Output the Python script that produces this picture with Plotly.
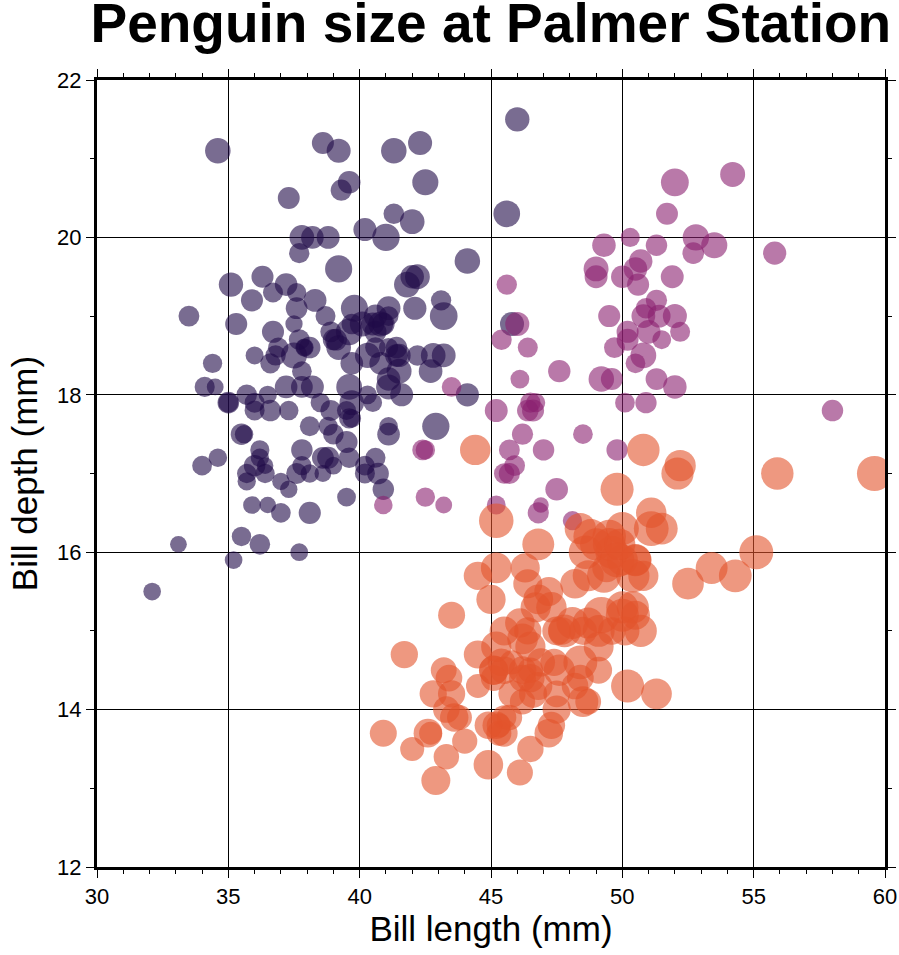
import plotly.graph_objects as go

# Adelie: bill length, bill depth, body mass
adelie_len = [39.1,39.5,40.3,36.7,39.3,38.9,39.2,34.1,42.0,37.8,37.8,41.1,38.6,34.6,36.6,38.7,42.5,34.4,46.0,37.8,
37.7,35.9,38.2,38.8,35.3,40.6,40.5,37.9,40.5,39.5,37.2,39.5,40.9,36.4,39.2,38.8,42.2,37.6,39.8,36.5,
40.8,36.0,44.1,37.0,39.6,41.1,37.5,36.0,42.3,39.6,40.1,35.0,42.0,34.5,41.4,39.0,40.6,36.5,37.6,35.7,
41.3,37.6,41.1,36.4,41.6,35.5,41.1,35.9,41.8,33.5,39.7,39.6,45.8,35.5,42.8,40.9,37.2,36.2,42.1,34.6,
42.9,36.7,35.1,37.3,41.3,36.3,36.9,38.3,38.9,35.7,41.1,34.0,39.6,36.2,40.8,38.1,40.3,33.1,43.2,35.0,
41.0,37.7,37.8,37.9,39.7,38.6,38.2,38.1,43.2,38.1,45.6,39.7,42.2,39.6,42.7,38.6,37.3,35.7,41.1,36.2,
37.7,40.2,41.4,35.2,40.6,38.8,41.5,39.0,44.1,38.5,43.1,36.8,37.5,38.1,41.1,35.6,40.2,37.0,39.7,40.2,
40.6,32.1,40.7,37.3,39.0,39.2,36.6,36.0,37.8,36.0,41.5]
adelie_dep = [18.7,17.4,18.0,19.3,20.6,17.8,19.6,18.1,20.2,17.1,17.3,17.6,21.2,21.1,17.8,19.0,20.7,18.4,21.5,18.3,
18.7,19.2,18.1,17.2,18.9,18.6,17.9,18.6,18.9,16.7,18.1,17.8,18.9,17.0,21.1,20.0,18.5,19.3,19.1,18.0,
18.4,18.5,19.7,16.9,18.8,19.0,18.9,17.9,21.2,17.7,18.9,17.9,19.5,18.1,18.6,17.5,18.8,16.6,19.1,16.9,
21.1,17.0,18.2,17.1,18.0,16.2,19.1,16.6,19.4,19.0,18.4,17.2,18.9,17.5,18.5,16.8,19.4,16.1,19.1,17.2,
17.6,18.8,19.4,17.8,20.3,19.5,18.6,19.2,18.8,18.0,18.1,17.1,18.1,17.3,18.9,18.6,18.5,16.1,18.5,17.9,
20.0,16.0,20.0,18.6,18.9,17.2,20.0,17.0,19.0,16.5,20.3,17.7,19.5,20.7,18.3,17.0,20.5,17.0,18.6,17.2,
19.8,17.0,18.5,15.9,19.0,17.6,18.3,17.1,18.0,17.9,19.2,18.5,18.5,17.6,17.5,17.5,20.1,16.5,17.9,17.1,
17.2,15.5,17.0,16.8,18.7,18.6,18.4,17.8,18.1,17.1,18.5]
adelie_mass = [3750,3800,3250,3450,3650,3625,4675,3475,4250,3300,3700,3200,3800,4400,3700,3450,4500,3325,4200,3400,
3600,3800,3950,3800,3800,3550,3200,3150,3950,3250,3900,3300,3900,3325,4150,3950,3550,3300,4650,3150,
3900,3100,4400,3000,4600,3425,2975,3450,4150,3500,4300,3450,4050,2900,3700,3550,3800,2850,3750,3150,
4400,3600,4050,2850,3950,3350,4100,3050,4450,3600,3900,3550,4150,3700,4250,3700,3900,3550,4000,3200,
4700,3800,4200,3350,3550,3800,3500,3950,3600,3550,4300,3400,4450,3300,4300,3700,4350,2900,4100,3725,
4725,3075,4250,2925,3550,3750,3900,3175,4775,3825,4600,3200,4275,3900,4075,2900,3775,3350,3325,3150,
3500,3450,3875,3050,4000,3275,4300,3050,4000,3325,3500,3500,4475,3425,3900,3175,3975,3400,4250,3400,
3475,3050,3725,3000,3650,4250,3475,3450,3750,3700,4000]

# Chinstrap
chin_len = [46.5,50.0,51.3,45.4,52.7,45.2,46.1,51.3,46.0,51.3,46.6,51.7,47.0,52.0,45.9,50.5,50.3,58.0,46.4,49.2,
42.4,48.5,43.2,50.6,46.7,52.0,50.5,49.5,46.4,52.8,40.9,54.2,42.5,51.0,49.7,47.5,47.6,52.0,46.9,53.5,
49.0,46.2,50.9,45.5,50.9,50.8,50.1,49.0,51.5,49.8,48.1,51.4,45.7,50.7,42.5,52.2,45.2,49.3,50.2,45.6,
51.9,46.8,45.7,55.8,43.5,49.6,50.8,50.2]
chin_dep = [17.9,19.5,19.2,18.7,19.8,17.8,18.2,18.2,18.9,19.9,17.8,20.3,17.3,18.1,17.1,19.6,20.0,17.8,18.6,18.2,
17.3,17.5,16.6,19.4,17.9,19.0,18.4,19.0,17.8,20.0,16.6,20.8,16.7,18.8,18.6,16.8,18.3,20.7,16.6,19.9,
19.5,17.5,19.1,17.0,17.9,18.5,17.9,19.6,18.7,17.3,16.4,19.0,17.3,19.7,17.3,18.8,16.6,19.9,18.8,19.4,
19.5,16.5,17.0,19.8,18.1,18.2,19.0,18.7]
chin_mass = [3500,3900,3650,3525,3725,3950,3250,3750,4150,3700,3800,3775,3700,4050,3575,4050,3300,3700,3450,4400,
3600,3400,2900,3800,3300,4150,3400,3800,3700,4550,3200,4300,3350,4100,3600,3900,3850,4800,2700,4500,
3950,3650,3550,3500,3675,4450,3400,4300,3250,3675,3325,3950,3600,4050,3350,3450,3250,4050,3800,3525,
3950,3650,3650,4000,3400,3775,4100,3775]

# Gentoo
gentoo_len = [46.1,50.0,48.7,50.0,47.6,46.5,45.4,46.7,43.3,46.8,40.9,49.0,45.5,48.4,45.8,49.3,42.0,49.2,46.2,48.7,
50.2,45.1,46.5,46.3,42.9,46.1,44.5,47.8,48.2,50.0,47.3,42.8,45.1,59.6,49.1,48.4,42.6,44.4,44.0,48.7,
42.7,49.6,45.3,49.6,50.5,43.6,45.5,50.5,44.9,45.2,46.6,48.5,45.1,50.1,46.5,45.0,43.8,45.5,43.2,50.4,
45.3,46.2,45.7,54.3,45.8,49.8,46.2,49.5,43.5,50.7,47.7,46.4,48.2,46.5,46.4,48.6,47.5,51.1,45.2,45.2,
49.1,52.5,47.4,50.0,44.9,50.8,43.4,51.3,47.5,52.1,47.5,52.2,45.5,49.5,44.5,50.8,49.4,46.9,48.4,51.1,
48.5,55.9,47.2,49.1,47.3,46.8,41.7,53.4,43.3,48.1,50.5,49.8,43.5,51.5,46.2,55.1,44.5,48.8,47.2,46.8,
50.4,45.2,49.9]
gentoo_dep = [13.2,16.3,14.1,15.2,14.5,13.5,14.6,15.3,13.4,15.4,13.7,16.1,13.7,14.6,14.6,15.7,13.5,15.2,14.5,15.1,
14.3,14.5,14.5,15.8,13.1,15.1,14.3,15.0,14.3,15.3,15.3,14.2,14.5,17.0,14.8,16.3,13.7,17.3,13.6,15.7,
13.7,16.0,13.7,15.0,15.9,13.9,13.9,15.9,13.3,15.8,14.2,14.1,14.4,15.0,14.4,15.4,13.9,15.0,14.5,15.3,
13.8,14.9,13.9,15.7,14.2,16.8,14.4,16.2,14.2,15.0,15.0,15.6,15.6,14.8,15.0,16.0,14.2,16.3,13.8,16.4,
14.5,15.6,14.6,15.9,13.8,17.3,14.4,14.2,14.0,17.0,15.0,17.1,14.5,16.1,14.7,15.7,15.8,14.6,14.4,16.5,
15.0,17.0,15.5,15.0,13.8,16.1,14.7,15.8,14.0,15.1,15.2,15.9,15.2,16.3,14.1,16.0,15.7,16.2,13.7,14.3,
15.7,14.8,16.1]
gentoo_mass = [4500,5700,4450,5700,5400,4550,4800,5200,4400,5150,4650,5550,4650,5850,4200,5850,4150,6300,4800,5350,
5700,5000,4400,5050,5000,5100,4100,5650,4600,5550,5250,4700,5050,6050,5150,5400,4950,5250,4350,5350,
3950,5700,4300,4750,5550,4900,4200,5400,5100,5300,4850,5300,4400,5000,4900,5050,4300,5000,4450,5550,
4200,5300,4400,5650,4700,5700,4650,5800,4700,5550,4750,5000,5100,5200,4700,5800,4600,6000,4750,5950,
4625,5450,4725,5350,4750,5600,4600,5300,4875,5550,4950,5400,4750,5650,4850,5200,4925,4875,4625,5250,
4850,5600,4975,5500,4725,5500,4700,5500,4575,5500,5000,5950,4650,5500,4375,5850,4875,6000,4925,4850,
5750,5200,5400]

species = ["Adelie", "Chinstrap", "Gentoo"]
colors = ["rgb(32,10,72)", "rgb(138,32,112)", "rgb(226,84,44)"]
x_ticks = [30, 35, 40, 45, 50, 55, 60]
y_ticks = [12, 14, 16, 18, 20, 22]

FONT = "Liberation Sans, Arial, Helvetica, sans-serif"

fig = go.Figure()
for name, xs, ys, ms, col in [
    (species[0], adelie_len, adelie_dep, adelie_mass, colors[0]),
    (species[1], chin_len, chin_dep, chin_mass, colors[1]),
    (species[2], gentoo_len, gentoo_dep, gentoo_mass, colors[2]),
]:
    fig.add_trace(go.Scatter(
        x=xs, y=ys, mode="markers", name=name,
        marker=dict(size=[m * 0.0058 for m in ms], color=col, opacity=0.6,
                    line=dict(width=0)),
        hovertemplate="%{x}, %{y}<extra>" + name + "</extra>",
    ))

axis_common = dict(
    showline=True, linecolor="black", linewidth=3, mirror="allticks",
    ticks="outside", ticklen=8, tickwidth=1, tickcolor="black",
    showgrid=True, gridcolor="black", gridwidth=1, zeroline=False,
    automargin=False,
    tickfont=dict(family=FONT, size=22, color="black"),
    title_font=dict(family=FONT, size=35, color="black"),
    minor=dict(dtick=1, ticks="outside", ticklen=4, tickcolor="black", tickwidth=1, showgrid=False),
)

fig.update_layout(
    width=899, height=955,
    margin=dict(l=97, r=14, t=80, b=88),
    paper_bgcolor="white", plot_bgcolor="white",
    showlegend=False,
    title=dict(text="<b>Penguin size at Palmer Station</b>", x=0.546, xanchor="center",
               y=0.976, yanchor="middle", automargin=False,
               font=dict(family=FONT, size=55, color="black")),
    xaxis=dict(axis_common, range=[30, 60], tickvals=x_ticks, ticktext=[str(v) for v in x_ticks],
               title=dict(text="Bill length (mm)", standoff=9)),
    yaxis=dict(axis_common, range=[12, 22], tickvals=y_ticks, ticktext=[str(v) for v in y_ticks],
               title=dict(text="Bill depth (mm)", standoff=9)),
)

fig.write_html("out.html", config={"displayModeBar": False},
               post_script="document.body.style.margin='0px';document.body.style.overflow='hidden';")
